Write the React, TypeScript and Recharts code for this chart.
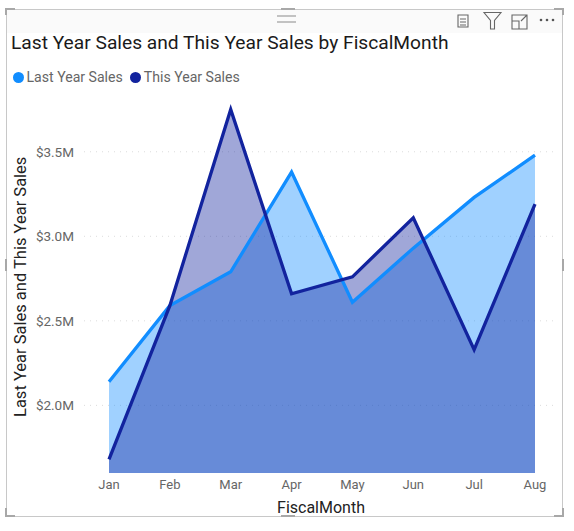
import React from "react";
import { ComposedChart, Area, Line, XAxis, YAxis, CartesianGrid } from "recharts";

const months = ["Jan", "Feb", "Mar", "Apr", "May", "Jun", "Jul", "Aug"];
const lastYearSales = [2.14, 2.59, 2.79, 3.38, 2.61, 2.93, 3.23, 3.48];
const thisYearSales = [1.68, 2.59, 3.75, 2.66, 2.76, 3.11, 2.33, 3.19];
const yTicks = [2.0, 2.5, 3.0, 3.5];
const seriesNames = ["Last Year Sales", "This Year Sales"];
const seriesColors = ["#118DFF", "#12239E"];
const rows = months.map((m, i) => ({ month: m, ly: lastYearSales[i], ty: thisYearSales[i] }));

const FONT = "Roboto, 'Noto Sans', sans-serif";
const Handle = ({ d }: { d: string }) => <path d={d} fill="none" stroke="#a8a8a8" strokeWidth={2} />;

export default function App() {
  return (
    <div style={{ position: "absolute", left: 0, top: 0, width: 574, height: 531, background: "#fff", overflow: "hidden", fontFamily: FONT }}>
      <svg width={574} height={531} style={{ position: "absolute", left: 0, top: 0 }}>
        <rect x={7} y={10} width={555} height={23} fill="#fafafa" />
        <rect x={6.5} y={9.5} width={556} height={507} fill="none" stroke="#c8c8c8" strokeWidth={1} />
        <Handle d="M6 15 V9 H15" />
        <Handle d="M554 9 H563 V15" />
        <Handle d="M6 508 V516 H15" />
        <Handle d="M554 516 H563 V508" />
        <Handle d="M281 9 H295" />
        <Handle d="M281 516 H295" />
        <Handle d="M6 259 V271" />
        <Handle d="M563 259 V271" />
        <path d="M277 16 H296 M277 22 H296" stroke="#8a8a8a" strokeWidth={1} />
        <g fill="none" stroke="#666" strokeWidth={1.1}>
          <path d="M458 15 H468 V27 H458 Z M460 19 H466 M460 22 H466 M460 25 H466" />
          <path d="M484 12.5 H501 L494.5 20.5 V29 H490.5 V20.5 Z" />
          <path d="M512 15 H527 V29 H512 Z M519 29 V21 H512 M521 21 L527 15" />
        </g>
        <g fill="#555">
          <circle cx={541} cy={20} r={1.3} />
          <circle cx={547} cy={20} r={1.3} />
          <circle cx={553} cy={20} r={1.3} />
        </g>
      </svg>
      <div style={{ position: "absolute", left: 11, top: 32, fontSize: 19.2, lineHeight: "22px", color: "#1a1a1a", whiteSpace: "nowrap" }}>
        Last Year Sales and This Year Sales by FiscalMonth
      </div>
      <div style={{ position: "absolute", left: 0, top: 0 }}>
        <ComposedChart width={574} height={531} data={rows} margin={{ top: 92.6, right: 16, bottom: 0, left: 0 }}>
          <CartesianGrid horizontal vertical={false} stroke="#dcdcdc" strokeDasharray="1 5" syncWithTicks />
          <XAxis
            dataKey="month"
            height={58}
            padding={{ left: 25, right: 23 }}
            axisLine={false}
            tickLine={false}
            tick={{ fill: "#666", fontSize: 13, fontFamily: FONT }}
            tickMargin={1}
            interval={0}
            label={{ value: "FiscalMonth", position: "insideBottom", offset: 18, fill: "#222", fontSize: 16, fontFamily: FONT }}
          />
          <YAxis
            width={84}
            domain={[1.6, 3.85]}
            ticks={yTicks}
            allowDataOverflow
            axisLine={false}
            tickLine={false}
            tick={{ fill: "#666", fontSize: 13.5, fontFamily: FONT }}
            tickFormatter={(v: number) => `$${v.toFixed(1)}M`}
            tickMargin={4}
            label={{ value: "Last Year Sales and This Year Sales", angle: -90, position: "insideLeft", offset: 20, dy: 4, fill: "#222", fontSize: 16.5, fontFamily: FONT, textAnchor: "middle" }}
          />
          <Area isAnimationActive={false} type="linear" dataKey="ly" name={seriesNames[0]} stroke="none" fill={seriesColors[0]} fillOpacity={0.4} dot={false} activeDot={false} />
          <Area isAnimationActive={false} type="linear" dataKey="ty" name={seriesNames[1]} stroke="none" fill={seriesColors[1]} fillOpacity={0.4} dot={false} activeDot={false} />
          <Line isAnimationActive={false} type="linear" dataKey="ly" name={seriesNames[0]} stroke={seriesColors[0]} strokeWidth={3.3} dot={false} activeDot={false} />
          <Line isAnimationActive={false} type="linear" dataKey="ty" name={seriesNames[1]} stroke={seriesColors[1]} strokeWidth={3.3} dot={false} activeDot={false} />
        </ComposedChart>
      </div>
      <div style={{ position: "absolute", left: 12.5, top: 67, display: "flex", fontSize: 14.1, lineHeight: "20px", color: "#666", whiteSpace: "nowrap" }}>
        {seriesNames.map((n, i) => (
          <span key={n} style={{ display: "flex", alignItems: "center", marginRight: 7 }}>
            <span style={{ width: 11, height: 11, borderRadius: "50%", background: seriesColors[i], marginRight: 3 }} />
            {n}
          </span>
        ))}
      </div>
    </div>
  );
}
